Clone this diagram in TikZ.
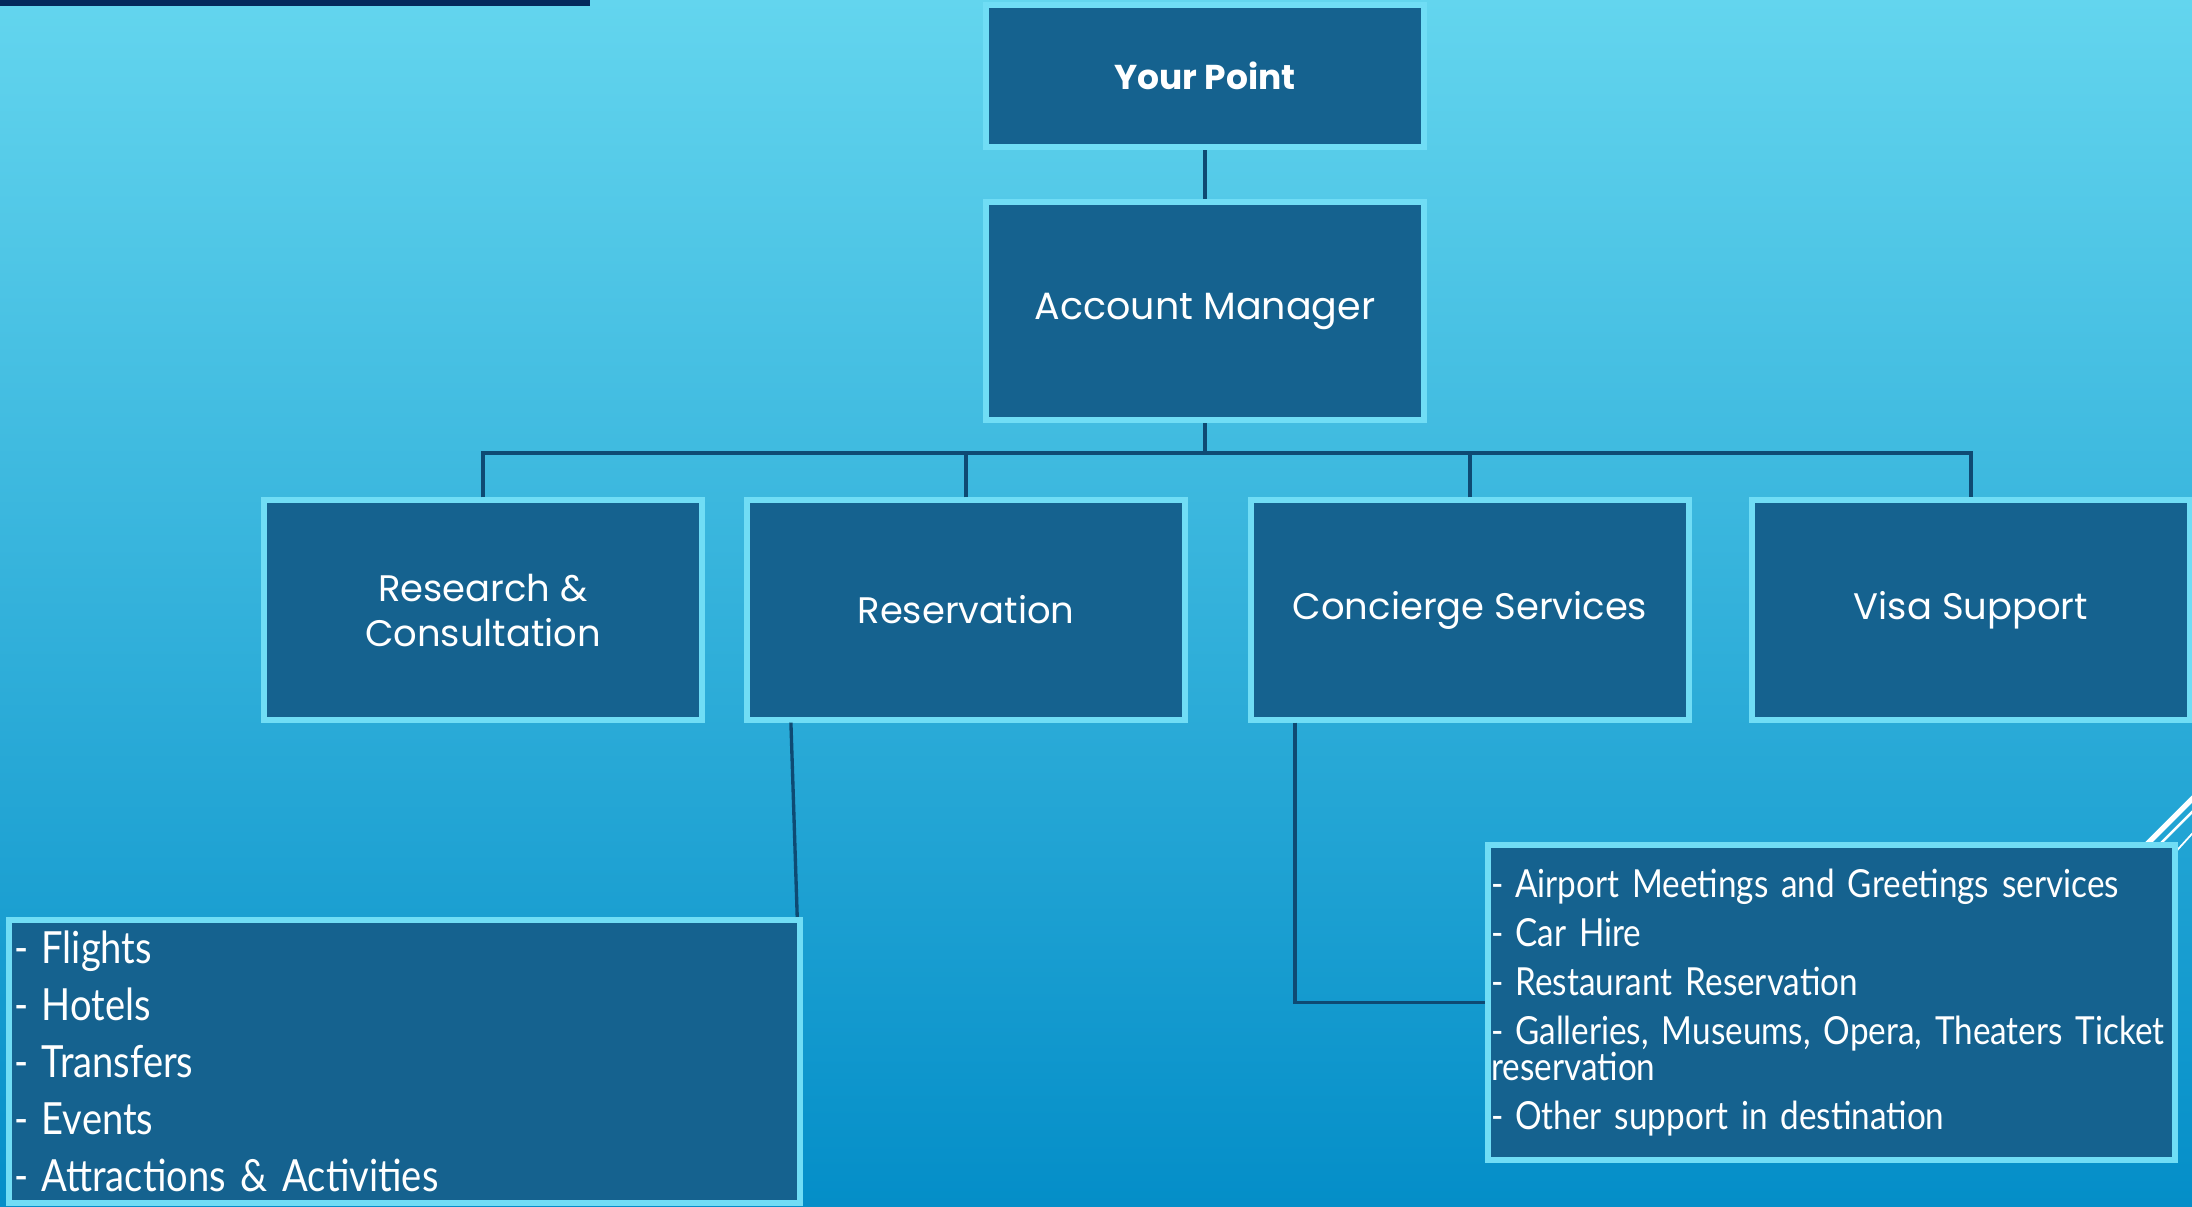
\documentclass[tikz,border=0pt]{standalone}
\usepackage{fontspec}
\setmainfont{Poppins}
\newfontfamily\listfont[FakeStretch=0.86]{Lato}
\usepackage{tikz}
\usetikzlibrary{positioning}
\definecolor{skytop}{RGB}{99,213,238}
\definecolor{skymid}{RGB}{50,183,224}
\definecolor{skybot}{RGB}{4,142,200}
\definecolor{boxfill}{RGB}{21,98,143}
\definecolor{boxrim}{RGB}{112,221,245}
\definecolor{linkcol}{RGB}{14,74,115}
\definecolor{barnavy}{RGB}{4,42,92}
\newcommand{\listdash}{-\hspace{0.3em}}

\begin{document}
\begin{tikzpicture}[x=0.01cm, y=-0.01cm,
        box/.style={draw=boxrim, fill=boxfill, line width=1.7pt, text=white,
                minimum width=4.38cm, minimum height=2.19cm, align=center,
                font=\fontsize{10.5}{12.8}\selectfont},
        listbox/.style={draw=boxrim, fill=boxfill, line width=1.7pt, text=white,
                align=left, inner xsep=0.02cm, inner ysep=0pt},
        link/.style={draw=linkcol, line width=0.95pt}]
        \useasboundingbox (0,0) rectangle (2192,1206);
        \shade[top color=skytop, middle color=skymid, bottom color=skybot]
                (0,0) rectangle (2192,1206);
        \fill[barnavy] (0,0) rectangle (590,6);

        % theme strokes behind the service list
        \draw[white, line width=1.5pt] (2100,891) -- (2250,741);
        \draw[white, line width=0.7pt] (2120,884) -- (2250,754);
        \draw[white, line width=0.5pt] (2140,891) -- (2250,770);

        \node[box, minimum height=1.42cm, font=\bfseries\fontsize{9.8}{12}\selectfont]
                (point) at (1205,76) {Your Point};
        \node[box, minimum height=2.18cm, font=\fontsize{10.8}{12.8}\selectfont]
                (manager) at (1205,311) {Account Manager};

        \node[box] (research) at (483,610) {Research \&\\Consultation};
        \node[box] (reservation) at (966,610) {Reservation};
        \node[box] (concierge) at (1470,610) {Concierge Services};
        \node[box] (visa) at (1971,610) {Visa Support};

        \node[listbox, minimum width=7.91cm, minimum height=2.83cm, text width=7.8cm,
                font=\listfont\fontsize{12.6}{16.2}\selectfont]
                (resvlist) at (404.5,1061.5)
                {\listdash Flights\\\listdash Hotels\\\listdash Transfers\\\listdash Events\\
                 \listdash Attractions \& Activities};
        \node[listbox, minimum width=6.87cm, minimum height=3.15cm, text width=6.8cm,
                font=\listfont\fontsize{11}{13.9}\selectfont]
                (svclist) at (1831.5,1002.5)
                {\listdash Airport Meetings and Greetings services\\\listdash Car Hire\\
                 \listdash Restaurant Reservation\\
                 \listdash Galleries, Museums, Opera, Theaters Ticket\\[-3.7pt]
                 reservation\\\listdash Other support in destination};

        \draw[link] (point) -- (manager);
        \draw[link] (manager.south) -- ++(0,30) coordinate (bus);
        \draw[link] (research.north) |- (bus) -| (visa.north);
        \draw[link] (reservation.north) -- (reservation.north |- bus);
        \draw[link] (concierge.north) -- (concierge.north |- bus);
        \draw[link] ([xshift=-1.75cm]reservation.south) -- ([xshift=-0.06cm]resvlist.north east);
        \draw[link] ([xshift=0.47cm]concierge.south west) |- (svclist.west);
\end{tikzpicture}
\end{document}
